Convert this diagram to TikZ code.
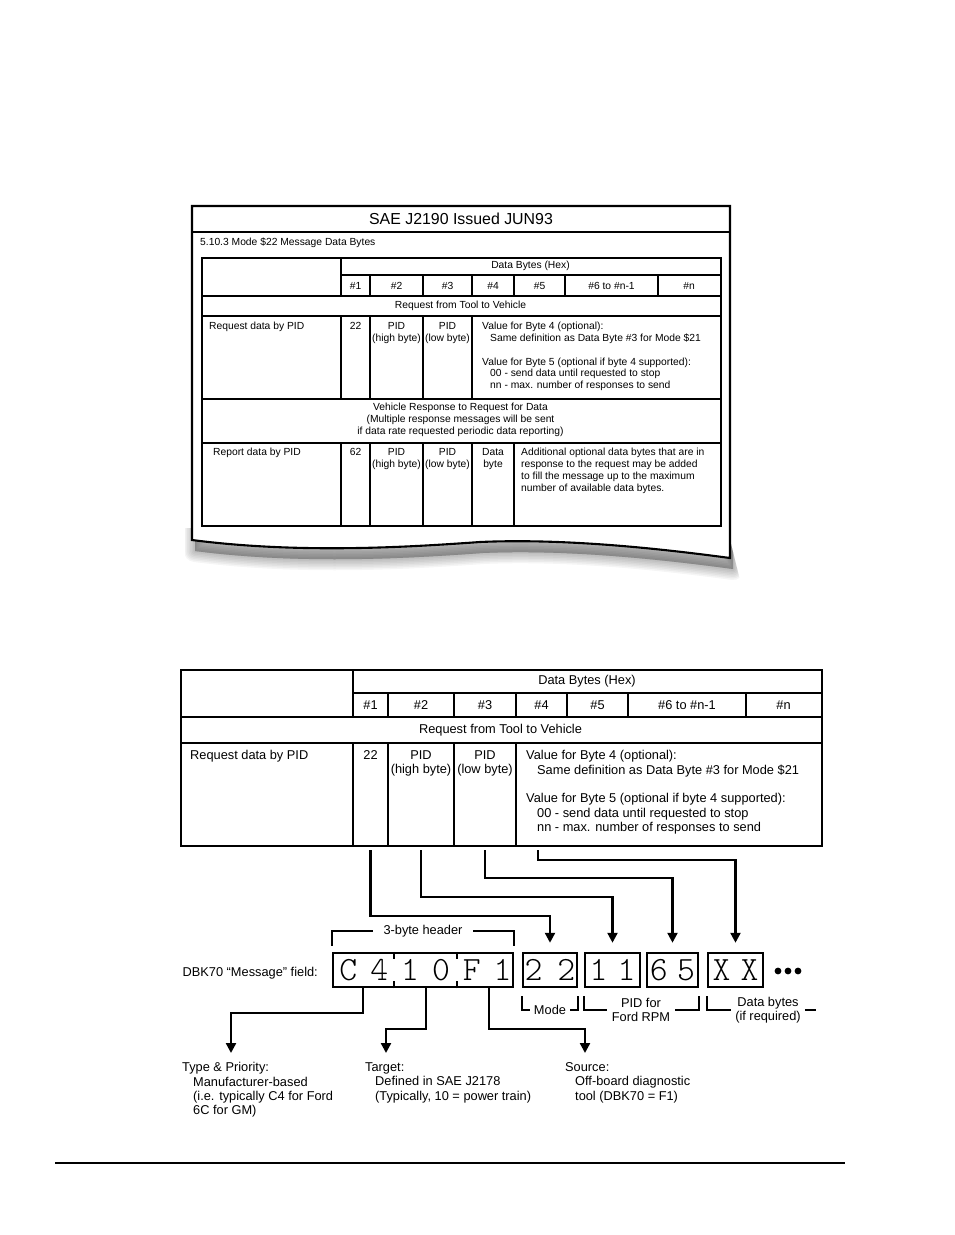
\documentclass[tikz,border=0pt]{standalone}
\usepackage{fontspec}
\setmainfont{Liberation Sans}
\usetikzlibrary{arrows.meta, calc}

\newcommand\bytefont{\fontsize{34}{34}\fontseries{l}\ttfamily\selectfont}
\newcommand\smallfont{\fontsize{10.3}{11.7}\selectfont}
\newcommand\cellfont{\fontsize{12.8}{14.3}\selectfont}
\def\paperpath{(192,206) -- (730,206) -- (730,558) .. controls (670,550) and (570,538) .. (480,542) .. controls (410,547) and (300,554) .. (192,540) -- cycle}

\begin{document}
\begin{tikzpicture}[x=1pt, y=-1pt,
  tline/.style={line width=1.6pt},
  bline/.style={line width=2.2pt},
  tsmall/.style={font=\smallfont, inner sep=0pt},
  tbig/.style={font=\cellfont, inner sep=0pt},
  bytebox/.style={draw, line width=2.5pt, minimum height=34pt, inner sep=0pt, font=\bytefont},
  brk/.style={line width=2pt},
  link/.style={line width=2.3pt, -{Triangle[width=10pt,length=10pt]}}]
\useasboundingbox (0,0) rectangle (954,1235);

% the printed page with its shadow
\begin{scope}
\clip (185,528) -- (727,528) -- (750,620) -- (185,620) -- cycle;
\begin{scope}[shift={(3,11)}]
\foreach \w in {1,4,...,22} \filldraw[black, opacity=0.04, line width=\w pt, line join=round] \paperpath;
\end{scope}
\end{scope}
\filldraw[fill=white, line width=2.1pt] \paperpath;
\draw[line width=1.7pt] (192,232) -- (730,232);
\node[font=\fontsize{15.9}{18}\selectfont, inner sep=0pt] (title) at (461,219) {SAE J2190 Issued JUN93};
\node[tsmall, anchor=base west] (sect) at (200,245.7) {5.10.3 Mode \$22 Message Data Bytes};

% table on the page
\node[draw, tline, minimum width=519pt, minimum height=268pt, anchor=north west, inner sep=0pt] (ttab) at (201,257) {};
\draw[tline] (341,275) -- (720,275);
\foreach \y in {296,316,399,443} \draw[tline] (201,\y) -- (720,\y);
\draw[tline] (341,257) -- (341,296);
\foreach \x in {370,423,472,514,565,658} \draw[tline] (\x,275) -- (\x,296);
\foreach \x in {341,370,423,472} \draw[tline] (\x,316) -- (\x,399) (\x,443) -- (\x,525);
\draw[tline] (514,443) -- (514,525);

\node[tsmall] (thex) at (530.5,266) {Data Bytes (Hex)};
\foreach \x/\t [count=\i] in {355.5/\#1, 396.5/\#2, 447.5/\#3, 493/\#4, 539.5/\#5, 611.5/\#6 to \#n-1, 689/\#n}
  \node[tsmall, anchor=base] (th\i) at (\x,289.2) {\t};
\node[tsmall] (treq) at (460.5,306) {Request from Tool to Vehicle};
\node[tsmall, anchor=north west] (trow) at (209,322.3) {Request data by PID};
\node[tsmall, anchor=north] (t22) at (355.5,322.3) {22};
\node[tsmall, anchor=north, align=center] (tpidhi) at (396.5,322.3) {PID\\(high byte)};
\node[tsmall, anchor=north, align=center] (tpidlo) at (447.5,322.3) {PID\\(low byte)};
\node[tsmall, anchor=north west, align=left] (tval) at (482,322.3) {Value for Byte 4 (optional):\\\hspace*{8pt}Same definition as Data Byte \#3 for Mode \$21\\[11.7pt]Value for Byte 5 (optional if byte 4 supported):\\\hspace*{8pt}00 - send data until requested to stop\\\hspace*{8pt}nn - max. number of responses to send};
\node[tsmall, align=center] (tresp) at (460.5,420) {Vehicle Response to Request for Data\\(Multiple response messages will be sent\\if data rate requested periodic data reporting)};
\node[tsmall, anchor=north west] (trep) at (213,448.3) {Report data by PID};
\node[tsmall, anchor=north] (t62) at (355.5,448.3) {62};
\node[tsmall, anchor=north, align=center] (tpidhib) at (396.5,448.3) {PID\\(high byte)};
\node[tsmall, anchor=north, align=center] (tpidlob) at (447.5,448.3) {PID\\(low byte)};
\node[tsmall, anchor=north, align=center] (tdbyte) at (493,448.3) {Data\\byte};
\node[tsmall, anchor=north west, align=left] (tadd) at (521,448.3) {Additional optional data bytes that are in\\response to the request may be added\\to fill the message up to the maximum\\number of available data bytes.};

% enlarged part of the table
\node[draw, bline, minimum width=641pt, minimum height=176pt, anchor=north west, inner sep=0pt] (btab) at (180,669) {};
\draw[bline] (353,693) -- (821,693);
\foreach \y in {717,743} \draw[bline] (180,\y) -- (821,\y);
\draw[bline] (353,669) -- (353,717);
\foreach \x in {388,454,516,567,628,746} \draw[bline] (\x,693) -- (\x,717);
\foreach \x in {353,388,454,516} \draw[bline] (\x,743) -- (\x,845);

\node[tbig] (bhex) at (587,681) {Data Bytes (Hex)};
\foreach \x/\t [count=\i] in {370.5/\#1, 421/\#2, 485/\#3, 541.5/\#4, 597.5/\#5, 687/\#6 to \#n-1, 783.5/\#n}
  \node[tbig, anchor=base] (bh\i) at (\x,709.6) {\t};
\node[tbig] (breq) at (500.5,730.5) {Request from Tool to Vehicle};
\node[tbig, anchor=north west] (brow) at (190,750.4) {Request data by PID};
\node[tbig, anchor=north] (b22) at (370.5,750.4) {22};
\node[tbig, anchor=north, align=center] (bpidhi) at (421,750.4) {PID\\(high byte)};
\node[tbig, anchor=north, align=center] (bpidlo) at (485,750.4) {PID\\(low byte)};
\node[tbig, anchor=north west, align=left] (bval) at (526,750.4) {Value for Byte 4 (optional):\\\hspace*{11pt}Same definition as Data Byte \#3 for Mode \$21\\[14.3pt]Value for Byte 5 (optional if byte 4 supported):\\\hspace*{11pt}00 - send data until requested to stop\\\hspace*{11pt}nn - max. number of responses to send};

% message field
\node[tbig, anchor=east] (dbk) at (318,973) {DBK70 “Message” field:};
\node[bytebox, minimum width=180pt] (hdr) at (423,970) {\hspace{5pt}C\hspace{13pt}4\hspace{13pt}1\hspace{13pt}0\hspace{13pt}F\hspace{13pt}1};
\node[bytebox, minimum width=54pt] (mode) at (550,970) {2\hspace{15pt}2};
\node[bytebox, minimum width=55pt] (pidhi) at (612.5,970) {1\hspace{10pt}1};
\node[bytebox, minimum width=51pt] (pidlo) at (672.5,970) {6\hspace{9.5pt}5};
\node[bytebox, minimum width=55pt] (dbyte) at (735.5,970) {X\hspace{10pt}X};
\foreach \f in {0.342,0.687}
  \draw[line width=1.6pt] ($(hdr.north west)!\f!(hdr.north east)$) -- ++(0,7) ($(hdr.south west)!\f!(hdr.south east)$) -- ++(0,-7);
\foreach \x in {778,788,798} \fill (\x,971) circle (3.4pt);

% brackets
\node[tbig, inner xsep=10pt] (hdrlbl) at (423,931) {3-byte header};
\draw[brk] ([yshift=6pt]hdr.north west) |- (hdrlbl.west);
\draw[brk] ([yshift=6pt]hdr.north east) |- (hdrlbl.east);
\node[tbig, inner xsep=4pt] (modelbl) at (550,1010) {Mode};
\draw[brk] ([yshift=-8pt]mode.south west) |- (modelbl.west);
\draw[brk] ([yshift=-8pt]mode.south east) |- (modelbl.east);
\node[tbig, align=center, inner xsep=5pt] (pidlbl) at (641,1010) {PID for\\Ford RPM};
\draw[brk] ([yshift=-8pt]pidhi.south west) |- (pidlbl.west);
\draw[brk] ([yshift=-8pt]pidlo.south east) |- (pidlbl.east);
\node[tbig, align=center, inner xsep=4pt] (datalbl) at (768,1010) {Data bytes\\(if required)};
\draw[brk] ([yshift=-8pt]dbyte.south west) |- (datalbl.west);
\draw[brk] (datalbl.east) -- ++(11,0);

% from the table to the bytes
\draw[link, shorten >=9pt] (b22 |- btab.south) ++(0,3) -- ++(0,66) -| (mode.north);
\draw[link, shorten >=9pt] (bpidhi |- btab.south) ++(0,3) -- ++(0,47) -| (pidhi.north);
\draw[link, shorten >=9pt] (bpidlo |- btab.south) ++(0,3) -- ++(0,28) -| (pidlo.north);
\draw[link, shorten >=9pt] (bval.west |- btab.south) ++(12,3) -- ++(0,10) -| (dbyte.north);

% header bytes explained
\coordinate (typetip) at (231,1053);
\coordinate (targettip) at (386,1053);
\coordinate (sourcetip) at (585,1053);
\draw[link] ($(hdr.south west)!.172!(hdr.south east)$) -- ++(0,25) -| (typetip);
\draw[link] ($(hdr.south west)!.517!(hdr.south east)$) -- ++(0,41) -| (targettip);
\draw[link] ($(hdr.south west)!.861!(hdr.south east)$) -- ++(0,41) -| (sourcetip);
\node[tbig, anchor=north west, align=left] (typetxt) at (182,1062.4) {Type \& Priority:\\\hspace*{11pt}Manufacturer-based\\\hspace*{11pt}(i.e. typically C4 for Ford\\\hspace*{11pt}6C for GM)};
\node[tbig, anchor=north west, align=left] (targettxt) at (365,1062.4) {Target:\\\hspace*{10pt}Defined in SAE J2178\\\hspace*{10pt}(Typically, 10 = power train)};
\node[tbig, anchor=north west, align=left] (sourcetxt) at (565,1062.4) {Source:\\\hspace*{10pt}Off-board diagnostic\\\hspace*{10pt}tool (DBK70 = F1)};

\draw[line width=1.6pt] (55,1163) -- (845,1163);
\end{tikzpicture}
\end{document}
